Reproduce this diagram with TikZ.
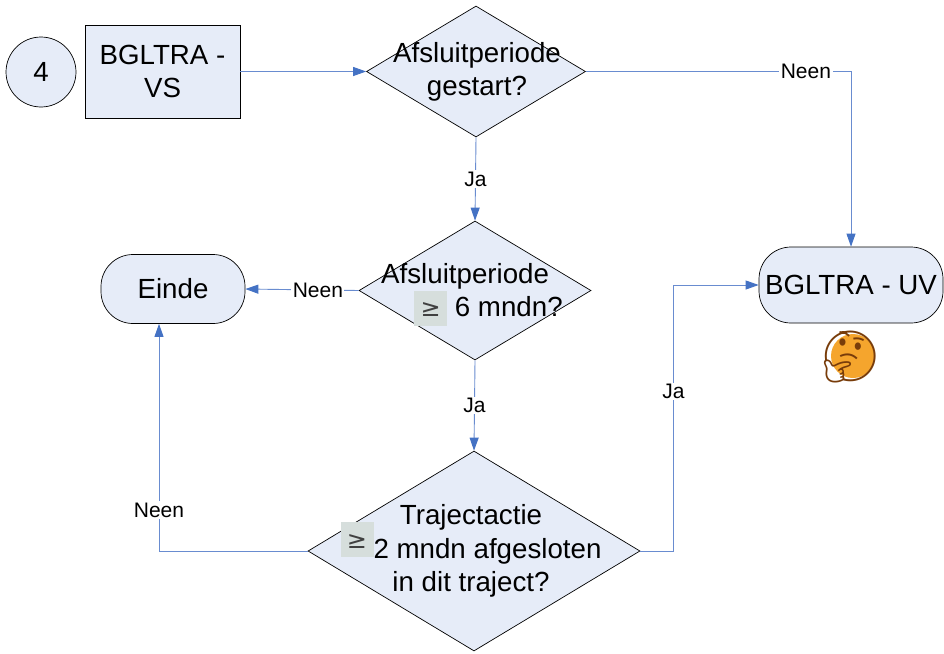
\documentclass[tikz,border=0pt]{standalone}
\usepackage{fontspec}
\setmainfont{Liberation Sans}
\newfontfamily\symfont{DejaVu Sans}
\newfontfamily\emojifont{Noto Emoji}
\usetikzlibrary{shapes.geometric,arrows.meta}

\definecolor{shapefill}{RGB}{230,236,248}
\definecolor{linkline}{RGB}{105,140,208}
\definecolor{linkblue}{RGB}{68,114,196}
\definecolor{geqbg}{RGB}{214,222,220}
\definecolor{smiley}{RGB}{245,165,45}
\definecolor{smileyline}{RGB}{120,60,10}

\newcommand{\geqbox}[1][0pt]{\smash{\raisebox{#1}{\setlength{\fboxsep}{0pt}\colorbox{geqbg}{\rule[-9pt]{0pt}{35pt}\makebox[33pt]{\textcolor{darkgray}{\symfont\fontsize{24}{24}\selectfont ≥}}}}}}

\begin{document}
\begin{tikzpicture}[x=1pt,y=-1pt,
	box/.style={draw,fill=shapefill,line width=0.7pt,inner sep=0pt,align=center,font=\fontsize{27.7}{33}\selectfont},
	decision/.style={box,diamond},
	terminal/.style={box,rectangle,rounded corners=32pt},
	txt/.style={align=center,inner sep=0pt,font=\fontsize{27.7}{33.5}\selectfont},
	lbl/.style={fill=white,inner sep=1.5pt,font=\fontsize{21}{25}\selectfont},
	conn/.style={draw=linkline,line width=0.9pt,-{Triangle[length=13pt,width=9pt,color=linkblue]}}]

	\useasboundingbox (0,0) rectangle (944,653);

	\node[box,circle,minimum size=70pt] (p4) at (41,72) {4};
	\node[box,rectangle,minimum width=155pt,minimum height=93pt] (vs) at (162.5,71.5) {BGLTRA -\\VS};

	\node[decision,minimum width=219pt,minimum height=131pt] (q1) at (476,71.5) {};
	\node[decision,minimum width=232pt,minimum height=139pt] (q2) at (475,290.5) {};
	\node[decision,minimum width=332pt,minimum height=200pt] (q3) at (474,551) {};

	\node[txt] (t1) at (477,72) {Afsluitperiode\\gestart?};
	\node[txt,align=left,anchor=west] (t2) at (381,290) {Afsluitperiode\\\hspace*{33pt}\geqbox{} 6 mndn?};
	\node[txt] (t3) at (471,551) {Trajectactie\\\geqbox[10pt]{}2 mndn afgesloten\\in dit traject?};

	\node[terminal,minimum width=144pt,minimum height=69pt] (einde) at (173,289) {Einde};
	\node[terminal,minimum width=184pt,minimum height=76pt] (uv) at (851,285) {BGLTRA - UV};
	\fill[smiley] (853,356) circle [radius=22pt];
	\node (emo) at (850,357) {\emojifont\fontsize{50}{50}\selectfont\color{smileyline}🤔};

	\path (vs.east) edge[conn] (q1.west);
	\foreach \i / \j in {
	q1/q2,
	q2/q3}
	{
		\path (\i.south) edge[conn] node[lbl]{Ja} (\j.north);
	};
	\draw[conn] (q1.east) -- node[lbl,pos=0.83]{Neen} (uv.north |- q1.east) -- (uv.north);
	\draw[conn] (q2.west) -- node[lbl,pos=0.36]{Neen} (einde.east);
	\draw[conn] (q3.west) -| node[lbl,pos=0.59]{Neen} ([xshift=-14pt]einde.south);
	\draw[conn] (q3.east) -- ++(33,0) |- node[lbl,pos=0.3]{Ja} (uv.west);
\end{tikzpicture}
\end{document}
